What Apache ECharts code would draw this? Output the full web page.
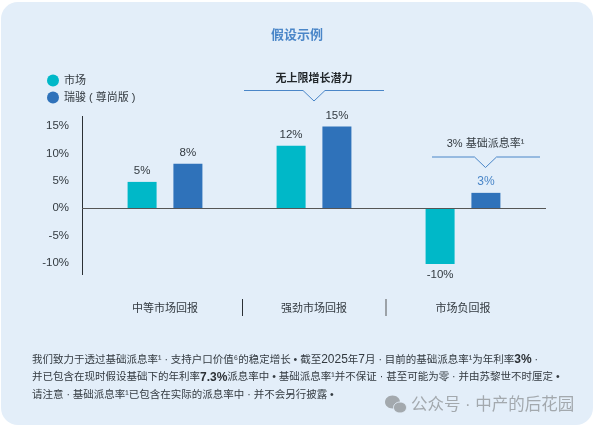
<!DOCTYPE html>
<html>
<head>
<meta charset="utf-8">
<style>
  html, body { margin: 0; padding: 0; background: #fff; }
  #chart { width: 597px; height: 429px; }
</style>
<script src="https://cdn.jsdelivr.net/npm/echarts@6/dist/echarts.min.js"></script>
</head>
<body>
<div id="chart"></div>
<script>
const categories = ['中等市场回报', '强劲市场回报', '市场负回报'];
const seriesNames = ['市场', '瑞骏 ( 尊尚版 )'];
// bar heights as drawn, the printed labels are kept separately
const marketValues = [4.8, 11.4, -10.2];
const fundValues = [8.1, 14.9, 2.8];
const marketLabels = ['5%', '12%', '-10%'];
const fundLabels = ['8%', '15%', '3%'];

const FONT = '"Liberation Sans", "Noto Sans CJK SC", sans-serif';
const TEAL = '#00b8c8';
const BLUE = '#2f72ba';
const LINE = '#4a86c8';
const TEXT = '#333a40';

const chart = echarts.init(document.getElementById('chart'));

function lineEl(x1, y1, x2, y2, stroke, width) {
  return { type: 'line', shape: { x1, y1, x2, y2 }, style: { stroke, lineWidth: width }, z: 5 };
}

function bracket(x1, x2, cx, y) {
  return {
    type: 'polyline',
    shape: { points: [[x1, y], [cx - 11, y], [cx, y + 10.5], [cx + 11, y], [x2, y]] },
    style: { stroke: LINE, lineWidth: 1, fill: null },
    z: 5
  };
}

function textEl(text, x, y, size, color, extra) {
  return {
    type: 'text', x, y, z: 6,
    style: Object.assign({ text, fontSize: size, fontFamily: FONT, fill: color, verticalAlign: 'middle' }, extra)
  };
}

const noteRich = {
  b: { fontWeight: 'bold', fontSize: 12, fontFamily: FONT, fill: '#2b3035' },
  n: { fontSize: 12, fontFamily: FONT, fill: TEXT }
};

function noteLine(text, y) {
  return textEl(text, 32, y, 10.5, TEXT, { rich: noteRich });
}

const option = {
  animation: false,
  backgroundColor: '#fff',
  textStyle: { fontFamily: FONT },
  legend: {
    orient: 'vertical', left: 42, top: 69.5,
    itemWidth: 12, itemHeight: 12, itemGap: 5, icon: 'circle',
    data: seriesNames,
    textStyle: { color: TEXT, fontSize: 11, fontFamily: FONT }
  },
  grid: { left: 90.5, right: 59.5, top: 126, height: 137 },
  xAxis: {
    type: 'category', data: categories,
    axisLine: { show: false, onZero: false },
    axisTick: { show: false },
    axisLabel: { color: TEXT, fontSize: 11, margin: 40, fontFamily: FONT }
  },
  yAxis: {
    type: 'value', min: -10, max: 15, interval: 5,
    splitLine: { show: false },
    axisLine: { show: false },
    axisTick: { show: false },
    axisLabel: { color: TEXT, fontSize: 11.5, margin: 21.5, formatter: '{value}%', fontFamily: FONT }
  },
  series: [
    {
      name: seriesNames[0], type: 'bar', barWidth: 29, barGap: '58%', clip: false,
      data: marketValues.map(v => ({
        value: v,
        label: { position: v < 0 ? 'bottom' : 'top' }
      })),
      itemStyle: { color: TEAL },
      label: {
        show: true, distance: 5, color: TEXT, fontSize: 11.5, fontFamily: FONT,
        formatter: p => marketLabels[p.dataIndex]
      }
    },
    {
      name: seriesNames[1], type: 'bar', barWidth: 29, clip: false,
      data: fundValues.map((v, i) => ({
        value: v,
        label: i === 2 ? { color: LINE, fontSize: 12 } : {}
      })),
      itemStyle: { color: BLUE },
      label: {
        show: true, position: 'top', distance: 5, color: TEXT, fontSize: 11.5, fontFamily: FONT,
        formatter: p => fundLabels[p.dataIndex]
      }
    }
  ],
  graphic: [
    { type: 'rect', shape: { x: 1, y: 2, width: 592, height: 423, r: 17 }, style: { fill: '#e3eef9' }, z: -10 },
    textEl('假设示例', 297, 35, 13, LINE, { align: 'center', fontWeight: 'bold' }),

    // axes
    lineEl(82.5, 116, 82.5, 275, '#2b3035', 1),
    lineEl(82, 208.5, 546, 208.5, '#555', 1),
    lineEl(242.5, 299, 242.5, 316, '#2b3035', 1),
    lineEl(386, 299, 386, 316, '#85888c', 1.5),

    // annotations
    textEl('无上限增长潜力', 314, 79, 11, '#22272b', { align: 'center', fontWeight: 'bold' }),
    bracket(244, 384, 314, 90.5),
    textEl('3% 基础派息率¹', 485.5, 144, 11, TEXT, { align: 'center' }),
    bracket(432, 540, 485.5, 157),

    // footnote
    noteLine('我们致力于透过基础派息率¹ · 支持户口价值⁶的稳定增长 • 截至{n|2025}年{n|7}月 · 目前的基础派息率¹为年利率{b|3%} ·', 360),
    noteLine('并已包含在现时假设基础下的年利率{b|7.3%}派息率中 • 基础派息率¹并不保证 · 甚至可能为零 · 并由苏黎世不时厘定 •', 377.5),
    noteLine('请注意 · 基础派息率¹已包含在实际的派息率中 · 并不会另行披露 •', 395),

    // watermark
    { type: 'ellipse', shape: { cx: 392.5, cy: 402, rx: 7.5, ry: 6.5 }, style: { fill: '#a3a9ae' }, z: 6 },
    { type: 'ellipse', shape: { cx: 400, cy: 407.5, rx: 6.5, ry: 5.5 }, style: { fill: '#a3a9ae', stroke: '#e3eef9', lineWidth: 1 }, z: 7 },
    textEl('公众号 · 中产的后花园', 411, 405, 16.5, '#a3a9ae', {})
  ]
};

chart.setOption(option);
</script>
</body>
</html>
